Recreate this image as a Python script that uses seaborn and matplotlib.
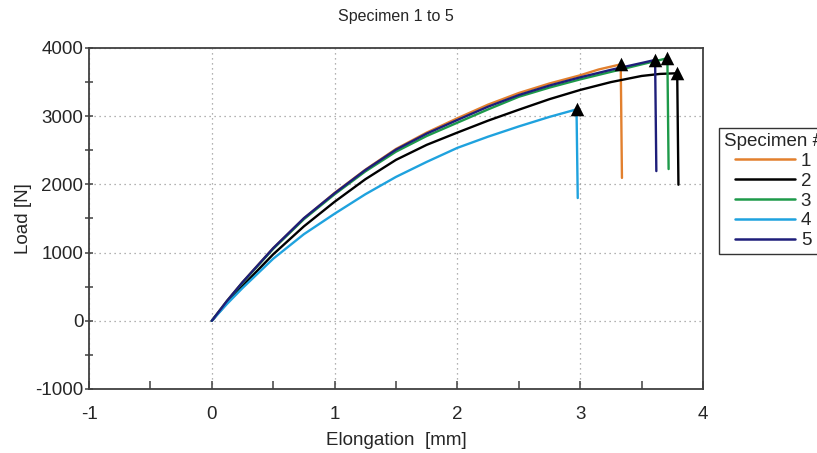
import numpy as np
import pandas as pd
import matplotlib
matplotlib.use("Agg")
import matplotlib.pyplot as plt
import seaborn as sns

# ---- data ----
x1 = [0, 0.125, 0.25, 0.5, 0.75, 1.0, 1.25, 1.5, 1.75, 2.0, 2.25, 2.5, 2.75, 3.0, 3.15, 3.33, 3.34]
y1 = [0, 295, 565, 1065, 1500, 1875, 2215, 2520, 2760, 2970, 3170, 3340, 3480, 3600, 3685, 3760, 2095]

x2 = [0, 0.125, 0.25, 0.5, 0.75, 1.0, 1.25, 1.5, 1.75, 2.0, 2.25, 2.5, 2.75, 3.0, 3.25, 3.5, 3.65, 3.79, 3.80]
y2 = [0, 265, 510, 975, 1385, 1745, 2075, 2360, 2580, 2760, 2935, 3095, 3250, 3385, 3500, 3590, 3620, 3630, 1995]

x3 = [0, 0.125, 0.25, 0.5, 0.75, 1.0, 1.25, 1.5, 1.75, 2.0, 2.25, 2.5, 2.75, 3.0, 3.25, 3.5, 3.71, 3.72]
y3 = [0, 290, 560, 1055, 1490, 1855, 2190, 2480, 2710, 2905, 3100, 3285, 3420, 3540, 3650, 3760, 3850, 2225]

x4 = [0, 0.125, 0.25, 0.5, 0.75, 1.0, 1.25, 1.5, 1.75, 2.0, 2.25, 2.5, 2.75, 2.97, 2.98]
y4 = [0, 250, 480, 910, 1270, 1570, 1855, 2110, 2330, 2536, 2700, 2850, 2990, 3100, 1800]

x5 = [0, 0.125, 0.25, 0.5, 0.75, 1.0, 1.25, 1.5, 1.75, 2.0, 2.25, 2.5, 2.75, 3.0, 3.25, 3.5, 3.61, 3.62]
y5 = [0, 295, 565, 1065, 1505, 1870, 2210, 2510, 2745, 2945, 3140, 3310, 3450, 3570, 3680, 3780, 3825, 2195]

specimens = ["1", "2", "3", "4", "5"]
peak_x = [3.33, 3.79, 3.71, 2.97, 3.61]
peak_y = [3760, 3630, 3850, 3100, 3825]

colors = ["#E2802E", "#000000", "#1E9A4A", "#1FA2DE", "#1E1E7A"]

xs = [x1, x2, x3, x4, x5]
ys = [y1, y2, y3, y4, y5]
frames = []
for s, xv, yv in zip(specimens, xs, ys):
    frames.append(pd.DataFrame({"Elongation": xv, "Load": yv, "Specimen": s}))
df = pd.concat(frames, ignore_index=True)
peaks = pd.DataFrame({"Elongation": peak_x, "Load": peak_y, "Specimen": specimens})

# ---- figure ----
sns.set_theme(style="white")
plt.rcParams["font.family"] = ["Liberation Sans", "DejaVu Sans"]
plt.rcParams["axes.unicode_minus"] = False

fig = plt.figure(figsize=(8.17, 4.53), dpi=100)
ax = fig.add_axes([89 / 817, 1 - 389 / 453, (703 - 89) / 817, (389 - 48) / 453])

sns.lineplot(data=df, x="Elongation", y="Load", hue="Specimen",
             palette=dict(zip(specimens, colors)), sort=False, estimator=None,
             units="Specimen", linewidth=1.7, ax=ax, legend=True)
sns.scatterplot(data=peaks, x="Elongation", y="Load", marker="^", color="black",
                s=95, edgecolor="black", linewidth=0, zorder=5, ax=ax, legend=False)

ax.set_xlim(-1, 4)
ax.set_ylim(-1000, 4000)
ax.set_xticks([-1, 0, 1, 2, 3, 4])
ax.set_xticks(np.arange(-0.5, 4, 1.0), minor=True)
ax.set_yticks([-1000, 0, 1000, 2000, 3000, 4000])
ax.set_yticks(np.arange(-500, 4000, 1000), minor=True)

ax.grid(True, which="major", linestyle=(0, (1, 3)), color="#999999", linewidth=0.9)
ax.set_axisbelow(True)

ax.tick_params(axis="x", which="both", direction="in", length=6, width=1.1,
               color="#404040", labelsize=13.5, pad=12, bottom=True, top=False)
ax.tick_params(axis="y", which="both", direction="inout", length=6, width=1.1,
               color="#404040", labelsize=13.5, pad=1, left=True, right=False)
for sp in ax.spines.values():
    sp.set_visible(True)
    sp.set_color("#404040")
    sp.set_linewidth(1.3)

ax.set_xlabel("Elongation  [mm]", fontsize=13.5, labelpad=7)
ax.set_ylabel("Load [N]", fontsize=13.5, labelpad=2)
fig.text(396 / 817, 1 - 17 / 453, "Specimen 1 to 5", ha="center", va="center", fontsize=11.5)

leg = ax.legend(title="Specimen #", loc="upper left",
                bbox_to_anchor=(719 / 817, 1 - 128 / 453), bbox_transform=fig.transFigure,
                fontsize=13.5, title_fontsize=13.5, frameon=True, fancybox=False,
                borderaxespad=0, borderpad=0.25, labelspacing=0.15,
                handlelength=3.2, handletextpad=0.3)
leg.get_frame().set_edgecolor("black")
leg.get_frame().set_linewidth(1.0)
for line in leg.get_lines():
    line.set_linewidth(1.8)

fig.savefig("out.png", dpi=100, facecolor="white")
